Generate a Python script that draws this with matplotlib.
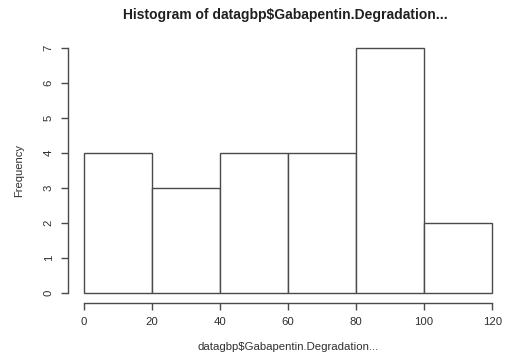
import numpy as np
import matplotlib.pyplot as plt

plt.rcParams['font.family'] = ['Liberation Sans', 'DejaVu Sans']

# histogram bins and counts
bin_edges = [0, 20, 40, 60, 80, 100, 120]
counts = [4, 3, 4, 4, 7, 2]
x_ticks = [0, 20, 40, 60, 80, 100, 120]
y_ticks = [0, 1, 2, 3, 4, 5, 6, 7]

line_col = '#4a4a4a'
text_col = '#303030'

fig = plt.figure(figsize=(5.09, 3.61), dpi=100)
ax = fig.add_axes([0.133, 0.161, 0.866, 0.734])

lefts = np.array(bin_edges[:-1])
widths = np.diff(bin_edges)
ax.bar(lefts, counts, width=widths, align='edge', facecolor='white',
       edgecolor=line_col, linewidth=1.0)

ax.set_xlim(-4.8, 124.8)
ax.set_ylim(-0.28, 7.28)

for s in ['top', 'right']:
    ax.spines[s].set_visible(False)
ax.spines['left'].set_bounds(0, 7)
ax.spines['bottom'].set_bounds(0, 120)
for s in ['left', 'bottom']:
    ax.spines[s].set_color(line_col)
    ax.spines[s].set_linewidth(1.0)

ax.set_xticks(x_ticks)
ax.set_yticks(y_ticks)
ax.tick_params(colors=line_col, labelcolor=text_col, labelsize=8.2,
               length=5, width=1.0, pad=5)
for lab in ax.get_yticklabels():
    lab.set_rotation(90)
    lab.set_va('center')

ax.set_xlabel('datagbp$Gabapentin.Degradation...', fontsize=8.2,
              color=text_col, labelpad=11)
ax.set_ylabel('Frequency', fontsize=8, color=text_col, labelpad=14)
fig.text(0.561, 0.958, 'Histogram of datagbp$Gabapentin.Degradation...',
         ha='center', va='center', fontsize=10, fontweight='bold', color='#202020')

fig.savefig('out.png', dpi=100)
